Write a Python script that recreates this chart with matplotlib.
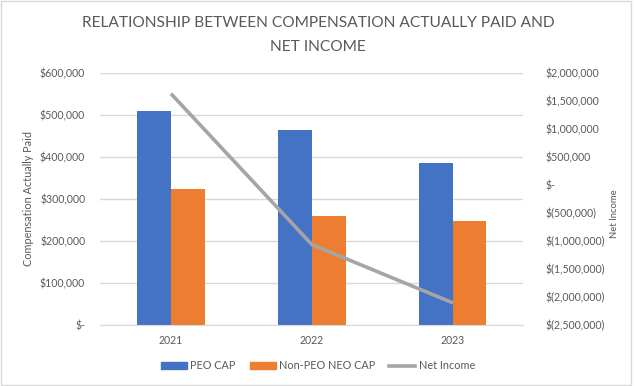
import numpy as np
import matplotlib.pyplot as plt
from matplotlib.ticker import FuncFormatter
from matplotlib.patches import Rectangle
from matplotlib.lines import Line2D
from matplotlib.patches import Patch

years = ['2021', '2022', '2023']
peo_cap = [510000, 464000, 386000]
non_peo_cap = [324000, 259000, 248000]
net_income = [1630000, -1065000, -2105000]

plt.rcParams['font.family'] = ['Lato', 'DejaVu Sans']
txt = '#595959'
grid = '#d9d9d9'


def left_fmt(v, pos):
    if v == 0:
        return '$-'
    return '${:,.0f}'.format(v)


def right_fmt(v, pos):
    if abs(v) < 1:
        return '$-'
    if v < 0:
        return '$({:,.0f})'.format(-v)
    return '${:,.0f}'.format(v)


fig = plt.figure(figsize=(6.36, 3.86), dpi=100)
ax = fig.add_axes([0.158, 0.158, 0.665, 0.653])
ax2 = ax.twinx()

x = np.arange(len(years))
w = 0.238
ax.bar(x - w / 2, peo_cap, w, color='#4472c4', zorder=2)
ax.bar(x + w / 2, non_peo_cap, w, color='#ed7d31', zorder=2)
ax2.plot(x, net_income, color='#a5a5a5', lw=2.6, solid_capstyle='butt')

ax.set_xlim(-0.5, 2.5)
ax.set_ylim(0, 600000)
ax.set_yticks(np.arange(0, 600001, 100000))
ax.yaxis.set_major_formatter(FuncFormatter(left_fmt))
ax2.set_ylim(-2500000, 2000000)
ax2.set_yticks(np.arange(-2500000, 2000001, 500000))
ax2.yaxis.set_major_formatter(FuncFormatter(right_fmt))

ax.set_xticks(x)
ax.set_xticklabels(years)
ax.grid(axis='y', color=grid, lw=1, zorder=0)
ax.set_axisbelow(True)
for a in (ax, ax2):
    for s in a.spines.values():
        s.set_visible(False)
    a.tick_params(length=0, colors=txt, labelsize=7.6)
ax.spines['bottom'].set_visible(True)
ax.spines['bottom'].set_color(grid)
ax.tick_params(axis='y', pad=11)
ax.tick_params(axis='x', pad=7)
ax2.tick_params(axis='y', pad=16)

ax.set_ylabel('Compensation Actually Paid', color=txt, fontsize=7.8)
ax.yaxis.set_label_coords(-0.157, 0.5)
ax2.set_ylabel('Net Income', color=txt, fontsize=6.8)
ax2.yaxis.set_label_coords(1.204, 0.44)

fig.text(0.5, 0.940, 'RELATIONSHIP BETWEEN COMPENSATION ACTUALLY PAID AND',
         ha='center', va='center', color=txt, fontsize=11.2)
fig.text(0.5, 0.878, 'NET INCOME',
         ha='center', va='center', color=txt, fontsize=11.2)

handles = [Patch(color='#4472c4'), Patch(color='#ed7d31'),
           Line2D([0], [0], color='#a5a5a5', lw=2.6)]
fig.legend(handles, ['PEO CAP', 'Non-PEO NEO CAP', 'Net Income'], loc='center',
           bbox_to_anchor=(0.5, 0.052), ncol=3, frameon=False, fontsize=7.8,
           labelcolor=txt, handlelength=2.4, handleheight=0.7, handletextpad=0.3,
           columnspacing=1.3)

fig.patches.append(Rectangle((0.002, 0.003), 0.99, 0.994, transform=fig.transFigure,
                             fill=False, edgecolor=grid, lw=1))

fig.savefig('out.png', dpi=100)
